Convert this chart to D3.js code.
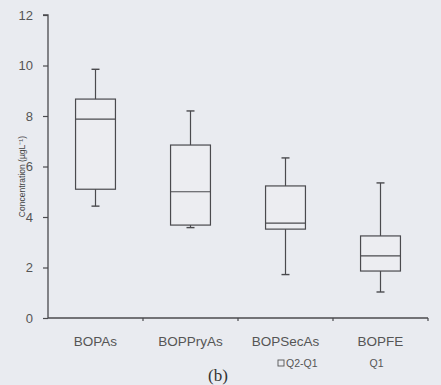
<!DOCTYPE html>
<html>
<head>
<meta charset="utf-8">
<script src="https://cdn.jsdelivr.net/npm/d3@7"></script>
<style>
  body { margin: 0; background: #e9ebf0; }
  svg { display: block; }
</style>
</head>
<body>
<div id="chart"></div>
<script>
// data
const categories = ["BOPAs", "BOPPryAs", "BOPSecAs", "BOPFE"];
const whiskerLow = [4.43, 3.58, 1.72, 1.03];
const q1 = [5.1, 3.68, 3.52, 1.86];
const median = [7.88, 5.0, 3.76, 2.46];
const q3 = [8.67, 6.85, 5.23, 3.25];
const whiskerHigh = [9.85, 8.2, 6.34, 5.35];
const yTicks = [0, 2, 4, 6, 8, 10, 12];

const width = 441, height = 385;
const margin = {top: 15, right: 13, bottom: 67, left: 48};
const innerW = width - margin.left - margin.right,
    innerH = height - margin.top - margin.bottom;

const ink = "#4a4a4e";
const font = "Liberation Sans, Arial, sans-serif";

const svg = d3.select("#chart")
    .append("svg")
    .attr("width", width)
    .attr("height", height);

const g = svg.append("g")
    .attr("transform", `translate(${margin.left},${margin.top})`);

const x = d3.scaleBand()
    .domain(categories)
    .range([0, innerW]);

const y = d3.scaleLinear()
    .domain([0, 12])
    .range([innerH, 0]);

// y axis
const yAxis = g.append("g")
    .call(d3.axisLeft(y).tickValues(yTicks).tickSize(5).tickPadding(10));
yAxis.select(".domain").attr("stroke", ink).attr("stroke-width", 1.3)
    .attr("d", `M-5,${y(12)}H0V${y(0)}`);
yAxis.selectAll(".tick line").attr("stroke", ink).attr("stroke-width", 1.2);
yAxis.selectAll(".tick text")
    .style("font-family", font)
    .style("font-size", "13px")
    .attr("fill", "#555");

// x axis with ticks at band edges
g.append("line")
    .attr("x1", 0).attr("x2", innerW)
    .attr("y1", innerH).attr("y2", innerH)
    .attr("stroke", ink).attr("stroke-width", 1.3);
g.selectAll(".xtick")
    .data(categories)
    .join("line")
    .attr("x1", d => x(d) + x.bandwidth())
    .attr("x2", d => x(d) + x.bandwidth())
    .attr("y1", innerH).attr("y2", innerH + 3)
    .attr("stroke", ink).attr("stroke-width", 1.2);

g.selectAll(".xlabel")
    .data(categories)
    .join("text")
    .attr("x", d => x(d) + x.bandwidth() / 2)
    .attr("y", innerH + 28)
    .attr("text-anchor", "middle")
    .style("font-family", font)
    .style("font-size", "13.5px")
    .attr("fill", "#555")
    .text(d => d);

// boxes
const boxW = x.bandwidth() * 0.42;
const capW = 8;
const boxes = g.selectAll(".box")
    .data(categories)
    .join("g")
    .attr("transform", d => `translate(${x(d) + x.bandwidth() / 2},0)`);

boxes.append("line")
    .attr("y1", (d, i) => y(whiskerLow[i]))
    .attr("y2", (d, i) => y(whiskerHigh[i]))
    .attr("stroke", ink).attr("stroke-width", 1.2);
boxes.append("line")
    .attr("x1", -capW / 2).attr("x2", capW / 2)
    .attr("y1", (d, i) => y(whiskerHigh[i]))
    .attr("y2", (d, i) => y(whiskerHigh[i]))
    .attr("stroke", ink).attr("stroke-width", 1.4);
boxes.append("line")
    .attr("x1", -capW / 2).attr("x2", capW / 2)
    .attr("y1", (d, i) => y(whiskerLow[i]))
    .attr("y2", (d, i) => y(whiskerLow[i]))
    .attr("stroke", ink).attr("stroke-width", 1.4);
boxes.append("rect")
    .attr("x", -boxW / 2)
    .attr("width", boxW)
    .attr("y", (d, i) => y(q3[i]))
    .attr("height", (d, i) => y(q1[i]) - y(q3[i]))
    .attr("fill", "#ecedf1")
    .attr("stroke", ink).attr("stroke-width", 1.2);
boxes.append("line")
    .attr("x1", -boxW / 2).attr("x2", boxW / 2)
    .attr("y1", (d, i) => y(median[i]))
    .attr("y2", (d, i) => y(median[i]))
    .attr("stroke", ink).attr("stroke-width", 1.2);

// y axis title
svg.append("text")
    .attr("transform", `translate(25,${margin.top + y(5.6)}) rotate(-90)`)
    .attr("text-anchor", "middle")
    .style("font-family", font)
    .style("font-size", "8.5px")
    .attr("fill", "#444")
    .text("Concentration (µgL⁻¹)");

// leftover legend text
const legendY = margin.top + innerH + 49;
svg.append("rect")
    .attr("x", 278)
    .attr("y", legendY - 7)
    .attr("width", 6).attr("height", 6)
    .attr("fill", "none").attr("stroke", "#555").attr("stroke-width", 0.9);
svg.append("text")
    .attr("x", 286)
    .attr("y", legendY)
    .style("font-family", font)
    .style("font-size", "10.5px")
    .attr("fill", "#555")
    .text("Q2-Q1");
svg.append("text")
    .attr("x", margin.left + x("BOPFE") + x.bandwidth() / 2 - 4)
    .attr("y", legendY)
    .attr("text-anchor", "middle")
    .style("font-family", font)
    .style("font-size", "10.5px")
    .attr("fill", "#555")
    .text("Q1");

// panel label at the bottom edge
svg.append("text")
    .attr("x", 218)
    .attr("y", 381)
    .attr("text-anchor", "middle")
    .style("font-family", "Liberation Serif, Times New Roman, serif")
    .style("font-size", "17px")
    .attr("fill", "#333")
    .text("(b)");
</script>
</body>
</html>
